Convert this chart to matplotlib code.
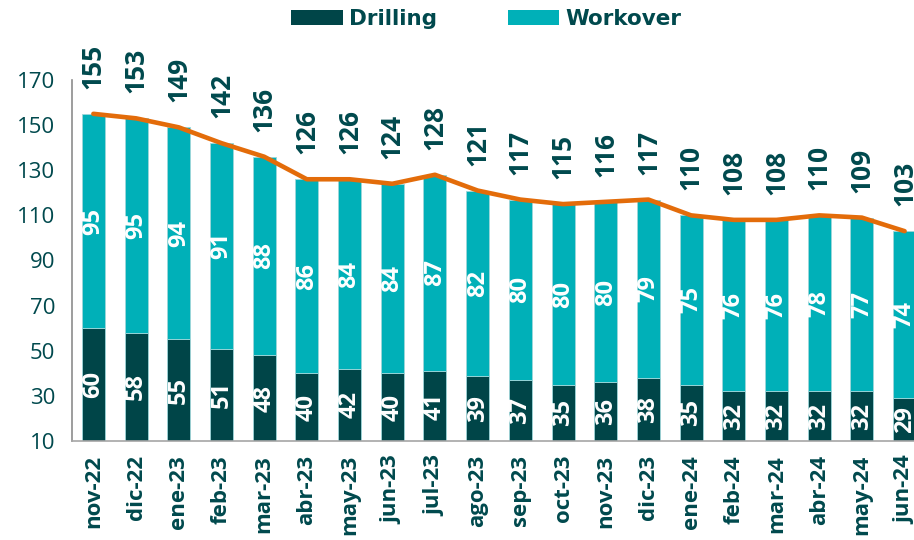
import matplotlib.pyplot as plt
from matplotlib.patches import Patch

meses = ["nov-22", "dic-22", "ene-23", "feb-23", "mar-23", "abr-23", "may-23",
         "jun-23", "jul-23", "ago-23", "sep-23", "oct-23", "nov-23", "dic-23",
         "ene-24", "feb-24", "mar-24", "abr-24", "may-24", "jun-24"]
drilling = [60, 58, 55, 51, 48, 40, 42, 40, 41, 39, 37, 35, 36, 38, 35, 32, 32, 32, 32, 29]
workover = [95, 95, 94, 91, 88, 86, 84, 84, 87, 82, 80, 80, 80, 79, 75, 76, 76, 78, 77, 74]
total = [155, 153, 149, 142, 136, 126, 126, 124, 128, 121, 117, 115, 116, 117,
         110, 108, 108, 110, 109, 103]

c_drill = "#004548"
c_work = "#00B0B8"
c_line = "#E36C0A"
c_text = "#00494D"

plt.rcParams['font.family'] = ['Open Sans', 'DejaVu Sans']

fig = plt.figure(figsize=(9.14, 5.4), dpi=100)
ax = fig.add_axes([0.0788, 0.1833, 0.9212, 0.6686])

x = list(range(len(meses)))
w = 0.54
ax.bar(x, drilling, width=w, color=c_drill, edgecolor="#9fd6d9", linewidth=0.6)
ax.bar(x, workover, width=w, bottom=drilling, color=c_work, edgecolor="#9fd6d9", linewidth=0.6)
ax.plot(x, total, color=c_line, linewidth=3.3, solid_capstyle="round", zorder=5)

ymin = 10
for i in x:
    ax.text(i, (ymin + drilling[i]) / 2, str(drilling[i]), rotation=90, ha="center", va="center",
            color="white", fontsize=17, fontweight="bold")
    ax.text(i, drilling[i] + workover[i] / 2, str(workover[i]), rotation=90, ha="center", va="center",
            color="white", fontsize=17, fontweight="bold")
    ax.annotate(str(total[i]), (i, total[i]), xytext=(0, 18), textcoords="offset points",
                rotation=90, ha="center", va="bottom", color=c_text, fontsize=19,
                fontweight="bold", annotation_clip=False)

ax.set_xlim(-0.50, 19.22)
ax.set_ylim(10, 170)
ax.set_yticks(range(10, 171, 20))
ax.set_xticks(x)
ax.set_xticklabels(meses, rotation=90, fontsize=16, color=c_text, fontweight="bold")
ax.tick_params(axis="y", length=0, labelsize=16, labelcolor=c_text, pad=12)
ax.tick_params(axis="x", length=0, pad=10)

for s in ["top", "right"]:
    ax.spines[s].set_visible(False)
ax.spines["left"].set_color("#8c8c8c")
ax.spines["bottom"].set_color("#a6a6a6")
ax.spines["left"].set_linewidth(1.2)
ax.spines["bottom"].set_linewidth(1.2)

handles = [Patch(facecolor=c_drill), Patch(facecolor=c_work)]
leg = fig.legend(handles, ["Drilling", "Workover"], loc="center", bbox_to_anchor=(0.532, 0.964),
                 ncol=2, frameon=False, handlelength=2.4, handleheight=0.7, handletextpad=0.28,
                 columnspacing=3.3, prop={"family": "DejaVu Sans", "weight": "bold", "size": 15.5})
for t in leg.get_texts():
    t.set_color(c_text)

fig.savefig("out.png", dpi=100)
